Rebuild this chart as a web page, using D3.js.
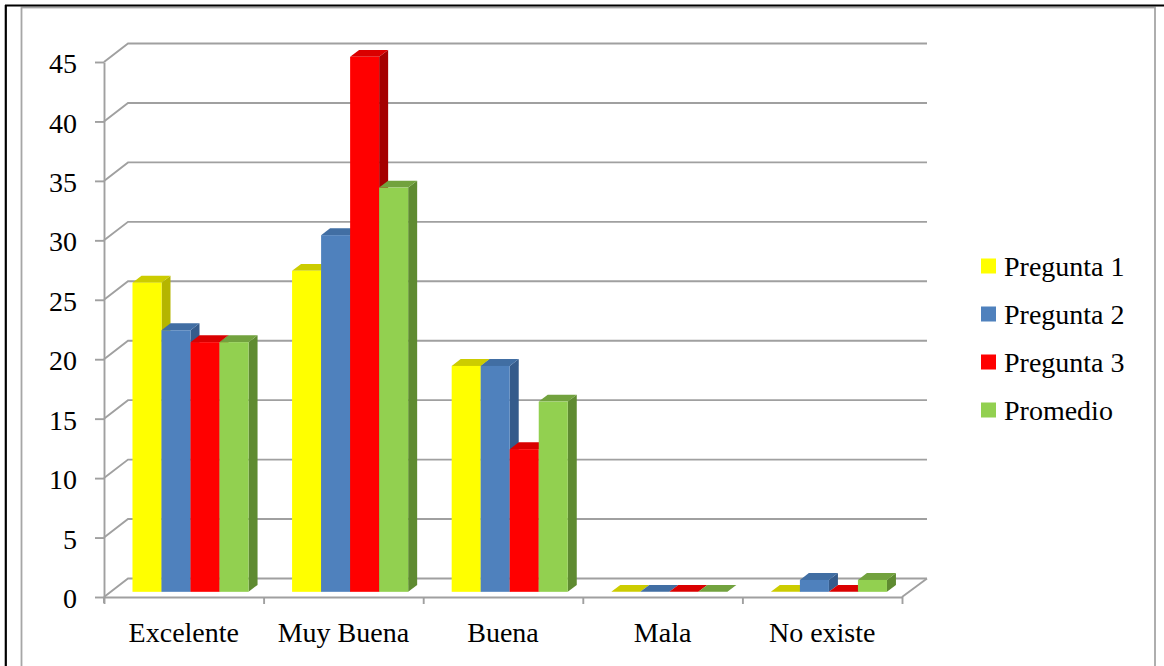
<!DOCTYPE html>
<html>
<head>
<meta charset="utf-8">
<script src="https://cdn.jsdelivr.net/npm/d3@7"></script>
<style>
  html, body { margin: 0; padding: 0; background: #fff; }
  svg { display: block; }
</style>
</head>
<body>
<svg id="chart" width="1164" height="666"></svg>
<script>
// Categories and series
const categories = ["Excelente", "Muy Buena", "Buena", "Mala", "No existe"];
const seriesNames = ["Pregunta 1", "Pregunta 2", "Pregunta 3", "Promedio"];
const pregunta1 = [26, 27, 19, 0, 0];
const pregunta2 = [22, 30, 19, 0, 1];
const pregunta3 = [21, 45, 12, 0, 0];
const promedio  = [21, 34, 16, 0, 1];
const yTicks = [0, 5, 10, 15, 20, 25, 30, 35, 40, 45];

const seriesValues = [pregunta1, pregunta2, pregunta3, promedio];
const frontColors = ["#FFFF00", "#4F81BD", "#FF0000", "#92D050"];
const topColors   = ["#CCCC00", "#416EA3", "#DA0000", "#72A23E"];
const sideColors  = ["#B5B500", "#355B8B", "#A50000", "#5F8B31"];

const FONT = "'Liberation Serif', 'Times New Roman', Times, serif";

const svg = d3.select("#chart");

// Frame
svg.append("rect").attr("x", 21.5).attr("y", 7.5).attr("width", 1133.5).attr("height", 670)
  .attr("fill", "#fff").attr("stroke", "#a6a6a6").attr("stroke-width", 1.8);
svg.append("line").attr("x1", 5).attr("x2", 1164).attr("y1", 5.5).attr("y2", 5.5)
  .attr("stroke", "#000").attr("stroke-width", 2.2);
svg.append("line").attr("x1", 5.8).attr("x2", 5.8).attr("y1", 5).attr("y2", 666)
  .attr("stroke", "#000").attr("stroke-width", 2.2);

// Plot geometry (front plane) and 3D depth offset
const left = 104, right = 902, base = 597, topY = 62;
const DX = 24, DY = -18.5;
const gridColor = "#a0a0a0";

const y = d3.scaleLinear().domain([0, 45]).range([base, topY]);
const x0 = d3.scaleBand().domain(categories).range([left, right]).padding(0);
const x1 = d3.scaleBand().domain(seriesNames).range([0, x0.bandwidth()])
  .paddingInner(0).paddingOuter(0.75);
const xb = d3.scaleLinear().domain([0, categories.length]).range([left, right]);

// Walls: gridlines running along the side wall and across the back wall
const grid = svg.append("g");
grid.selectAll("polyline").data(yTicks).join("polyline")
  .attr("points", d => [[left, y(d)], [left + DX, y(d) + DY], [right + DX + 1, y(d) + DY]].map(p => p.join(",")).join(" "))
  .attr("fill", "none").attr("stroke", gridColor).attr("stroke-width", 1.9);

// Floor right edge
svg.append("line").attr("x1", right).attr("y1", base).attr("x2", right + DX + 1).attr("y2", base + DY)
  .attr("stroke", gridColor).attr("stroke-width", 1.9);

// Value axis
const yAxis = d3.axisLeft(y).tickValues(yTicks).tickSize(9).tickSizeOuter(0).tickPadding(18);
const gy = svg.append("g").attr("transform", `translate(${left},0)`).call(yAxis)
  .attr("font-family", null).attr("font-size", null);
gy.select(".domain").attr("stroke", gridColor).attr("stroke-width", 1.9);
gy.selectAll(".tick line").attr("stroke", gridColor).attr("stroke-width", 1.9);
gy.selectAll(".tick text").attr("dy", "0.38em").attr("fill", "#000")
  .style("font-family", FONT).style("font-size", "28px");
svg.append("line").attr("x1", left).attr("x2", left).attr("y1", base).attr("y2", base + 6)
  .attr("stroke", gridColor).attr("stroke-width", 1.9);

// Category axis (ticks between categories)
const xAxis = d3.axisBottom(xb).tickValues(d3.range(categories.length + 1)).tickSize(7)
  .tickSizeOuter(0).tickFormat("");
const gx = svg.append("g").attr("transform", `translate(0,${base})`).call(xAxis);
gx.select(".domain").attr("stroke", gridColor).attr("stroke-width", 1.9);
gx.selectAll(".tick line").attr("stroke", gridColor).attr("stroke-width", 1.9);

svg.append("g").selectAll("text").data(categories).join("text")
  .attr("x", d => x0(d) + x0.bandwidth() / 2)
  .attr("y", 641.5)
  .attr("text-anchor", "middle")
  .attr("fill", "#000")
  .style("font-family", FONT).style("font-size", "28px")
  .text(d => d);

// 3D bars: front face sits about a quarter into the depth, thickness ~3/8 of it
const f0 = 0.28, ft = 0.375;
const ox = DX * f0, oy = DY * f0, tx = DX * ft, ty = DY * ft;
const bars = [];
categories.forEach((c, ci) => {
  seriesNames.forEach((s, si) => {
    bars.push({ c, s, si, v: seriesValues[si][ci] });
  });
});
const w = x1.bandwidth();
const barG = svg.append("g");
const pts = a => a.map(p => p.join(",")).join(" ");
bars.forEach(b => {
  const xL = x0(b.c) + x1(b.s) + ox;
  const xR = xL + w;
  const yB = y(0) + oy;
  const yT = y(b.v) + oy;
  const g = barG.append("g");
  if (b.v > 0) {
    g.append("polygon")
      .attr("points", pts([[xR, yT], [xR + tx, yT + ty], [xR + tx, yB + ty], [xR, yB]]))
      .attr("fill", sideColors[b.si]);
  }
  g.append("polygon")
    .attr("points", pts([[xL, yT], [xL + tx, yT + ty], [xR + tx, yT + ty], [xR, yT]]))
    .attr("fill", topColors[b.si]);
  if (b.v > 0) {
    g.append("rect").attr("x", xL).attr("y", yT).attr("width", w).attr("height", yB - yT)
      .attr("fill", frontColors[b.si]);
  }
});

// Legend
const legend = svg.append("g").selectAll("g").data(seriesNames).join("g")
  .attr("transform", (d, i) => `translate(981,${266 + i * 48})`);
legend.append("rect").attr("x", 0).attr("y", -7.5).attr("width", 15).attr("height", 15)
  .attr("fill", (d, i) => frontColors[i]);
legend.append("text").attr("x", 23).attr("y", 9.5).attr("fill", "#000")
  .style("font-family", FONT).style("font-size", "28px")
  .text(d => d);
</script>
</body>
</html>
